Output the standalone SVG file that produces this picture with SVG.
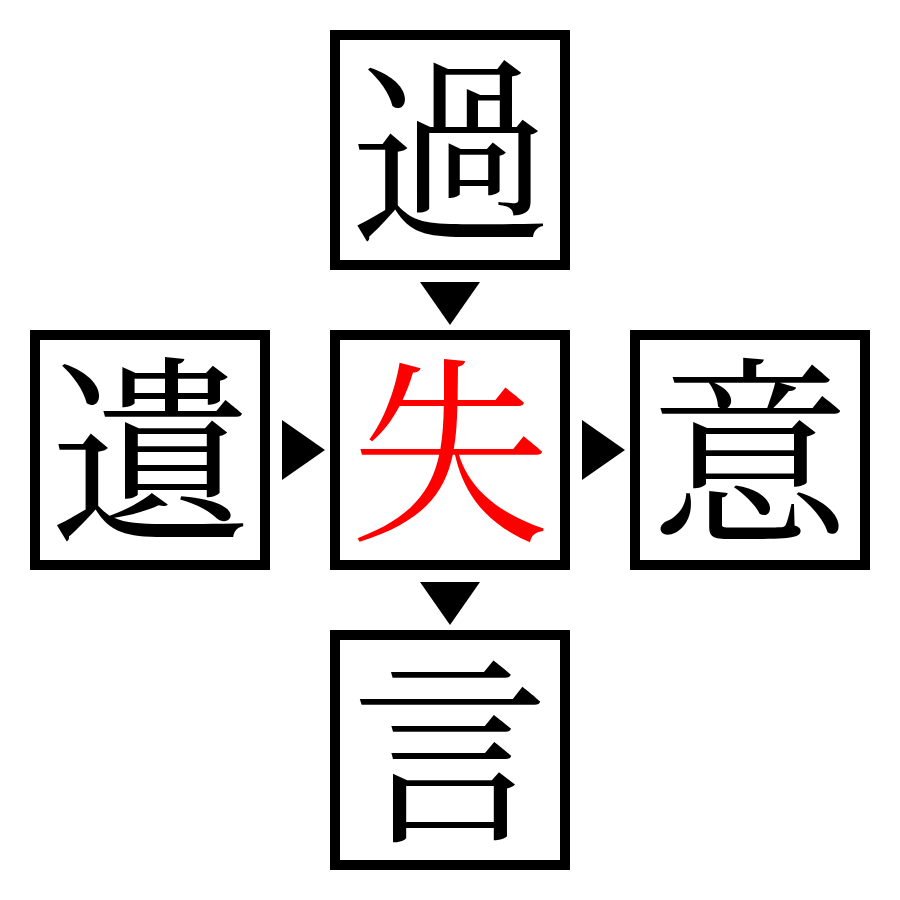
<svg xmlns="http://www.w3.org/2000/svg" width="900" height="900" viewBox="0 0 900 900">
<style>
.box{fill:#fff;stroke:#000;stroke-width:10}
.ch{font-family:"Noto Serif CJK JP","Noto Sans CJK JP","Noto Sans CJK SC",sans-serif;font-size:200px;text-anchor:middle;fill:#000}
.red{fill:#ff0000}
.arr{fill:#000}
</style>
<rect width="900" height="900" fill="#fff"/>
<g id="connectors">
<polygon class="arr" points="420,282 480,282 450,325"/>
<polygon class="arr" points="420,582 480,582 450,625"/>
<polygon class="arr" points="282,420 282,480 325,450"/>
<polygon class="arr" points="582,420 582,480 625,450"/>
</g>
<g id="node-top"><rect class="box" x="335" y="35" width="230" height="230"/><text class="ch" x="450" y="226">過</text></g>
<g id="node-left"><rect class="box" x="35" y="335" width="230" height="230"/><text class="ch" x="150" y="526">遺</text></g>
<g id="node-center"><rect class="box" x="335" y="335" width="230" height="230"/><text class="ch red" x="450" y="526">失</text></g>
<g id="node-right"><rect class="box" x="635" y="335" width="230" height="230"/><text class="ch" x="750" y="526">意</text></g>
<g id="node-bottom"><rect class="box" x="335" y="635" width="230" height="230"/><text class="ch" x="450" y="826">言</text></g>
</svg>
